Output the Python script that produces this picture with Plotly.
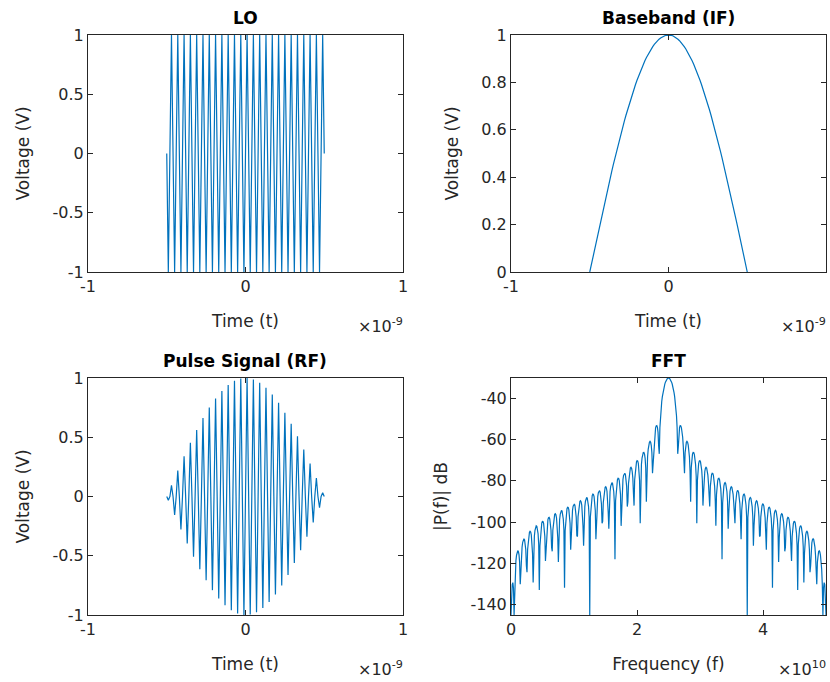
import numpy as np
import plotly.graph_objects as go

# ---- parameters ----
lo_freq_hz = 25e9          # LO carrier (FFT peak at 2.5e10)
pulse_start_s = -0.5e-9    # pulse spans -0.5 ns .. 0.5 ns
pulse_stop_s = 0.5e-9
sample_rate_hz = 1e11      # FFT axis ends at Nyquist 5e10
fft_len = 1024

time_ticks = [-1e-9, 0, 1e-9]
time_tick_text = ["-1", "0", "1"]
lo_yticks = [-1, -0.5, 0, 0.5, 1]
lo_ytext = ["-1", "-0.5", "0", "0.5", "1"]
bb_yticks = [0, 0.2, 0.4, 0.6, 0.8, 1]
bb_ytext = ["0", "0.2", "0.4", "0.6", "0.8", "1"]
fft_xticks = [0, 2e10, 4e10]
fft_xtext = ["0", "2", "4"]
fft_yticks = [-140, -120, -100, -80, -60, -40]
fft_ytext = ["-140", "-120", "-100", "-80", "-60", "-40"]

titles = ["LO", "Baseband (IF)", "Pulse Signal (RF)", "FFT"]

# ---- signals ----
n_samp = int(round((pulse_stop_s - pulse_start_s) * sample_rate_hz)) + 1
t = np.linspace(pulse_start_s, pulse_stop_s, n_samp)
lo = np.sin(2 * np.pi * lo_freq_hz * t)
bb = np.cos(np.pi * t / (pulse_stop_s - pulse_start_s))
rf = lo * bb
spec = np.abs(np.fft.fft(rf, fft_len)) / fft_len
half = fft_len // 2 + 1
freqs = np.arange(half) * sample_rate_hz / fft_len
spec_db = 20 * np.log10(np.maximum(spec[:half], 1e-300))
spec_db = np.maximum(spec_db, -145)

BLUE = "#0072BD"
AX = "#262626"
FONT = "DejaVu Sans"
W, H = 830, 682
TICK_SIZE = 16
LABEL_SIZE = 17
TITLE_SIZE = 17

fig = go.Figure()

def px_x(p):
    return p / W

def px_y(p):
    return 1 - p / H

doms = {
    1: ([px_x(88), px_x(403)], [px_y(272), px_y(35)]),
    2: ([px_x(511), px_x(826)], [px_y(272), px_y(35)]),
    3: ([px_x(88), px_x(403)], [px_y(615), px_y(378)]),
    4: ([px_x(511), px_x(826)], [px_y(615), px_y(378)]),
}

series = [(t, lo), (t, bb), (t, rf), (freqs, spec_db)]
for i, (xs, ys) in enumerate(series, start=1):
    fig.add_trace(go.Scatter(x=xs, y=ys, mode="lines",
                             line=dict(color=BLUE, width=1.2),
                             xaxis="x" if i == 1 else f"x{i}",
                             yaxis="y" if i == 1 else f"y{i}",
                             showlegend=False, hoverinfo="skip"))

axis_common = dict(showline=True, linecolor=AX, linewidth=1, mirror="ticks",
                   ticks="inside", ticklen=5, tickcolor=AX, showgrid=False,
                   zeroline=False, automargin=False,
                   tickfont=dict(family=FONT, size=TICK_SIZE, color=AX))

layout = dict(width=W, height=H, autosize=False,
              margin=dict(l=0, r=0, t=0, b=0),
              paper_bgcolor="white", plot_bgcolor="white",
              font=dict(family=FONT, color=AX))

xcfg = {
    1: dict(range=[-1e-9, 1e-9], tickvals=time_ticks, ticktext=time_tick_text, title="Time (t)"),
    2: dict(range=[-1e-9, 1e-9], tickvals=time_ticks, ticktext=time_tick_text, title="Time (t)"),
    3: dict(range=[-1e-9, 1e-9], tickvals=time_ticks, ticktext=time_tick_text, title="Time (t)"),
    4: dict(range=[0, 5e10], tickvals=fft_xticks, ticktext=fft_xtext, title="Frequency (f)"),
}
ycfg = {
    1: dict(range=[-1, 1], tickvals=lo_yticks, ticktext=lo_ytext, title="Voltage (V)"),
    2: dict(range=[0, 1], tickvals=bb_yticks, ticktext=bb_ytext, title="Voltage (V)"),
    3: dict(range=[-1, 1], tickvals=lo_yticks, ticktext=lo_ytext, title="Voltage (V)"),
    4: dict(range=[float(spec_db.min()), float(spec_db.max())], tickvals=fft_yticks,
            ticktext=fft_ytext, title="|P(f)| dB"),
}

for i in range(1, 5):
    xd, yd = doms[i]
    xk = "xaxis" if i == 1 else f"xaxis{i}"
    yk = "yaxis" if i == 1 else f"yaxis{i}"
    xa = dict(axis_common)
    xa.update(domain=xd, anchor="y" if i == 1 else f"y{i}",
              range=xcfg[i]["range"], tickvals=xcfg[i]["tickvals"], ticktext=xcfg[i]["ticktext"],
              title=dict(text=xcfg[i]["title"], font=dict(family=FONT, size=LABEL_SIZE, color=AX), standoff=19))
    ya = dict(axis_common)
    ya.update(domain=yd, anchor="x" if i == 1 else f"x{i}",
              range=ycfg[i]["range"], tickvals=ycfg[i]["tickvals"], ticktext=ycfg[i]["ticktext"],
              title=dict(text=ycfg[i]["title"], font=dict(family=FONT, size=LABEL_SIZE, color=AX), standoff=18))
    layout[xk] = xa
    layout[yk] = ya

annotations = []
for i in range(1, 5):
    xd, yd = doms[i]
    annotations.append(dict(text=f"<b>{titles[i-1]}</b>", x=(xd[0] + xd[1]) / 2, y=yd[1],
                            xref="paper", yref="paper", xanchor="center", yanchor="bottom",
                            yshift=5, showarrow=False,
                            font=dict(family=FONT, size=TITLE_SIZE, color="black")))
    exp = "-9" if i < 4 else "10"
    annotations.append(dict(text=f"×10<sup>{exp}</sup>", x=xd[1], y=yd[0],
                            xref="paper", yref="paper", xanchor="right", yanchor="top",
                            yshift=-41, xshift=2, showarrow=False,
                            font=dict(family=FONT, size=TICK_SIZE, color=AX)))
layout["annotations"] = annotations

fig.update_layout(**layout)
fig.write_html("out.html", config={"displayModeBar": False},
               post_script="document.body.style.margin='0';")
